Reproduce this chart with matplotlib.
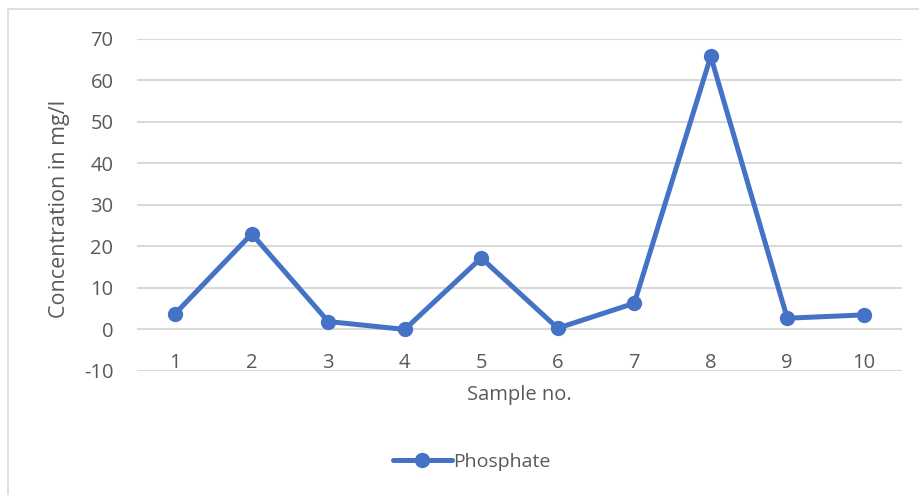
import matplotlib.pyplot as plt
from matplotlib.patches import Rectangle

samples = [1, 2, 3, 4, 5, 6, 7, 8, 9, 10]
phosphate = [3.8, 23.0, 1.9, 0.0, 17.2, 0.3, 6.3, 65.7, 2.7, 3.5]
yticks = [-10, 0, 10, 20, 30, 40, 50, 60, 70]

text_col = "#595959"
line_col = "#4472C4"
grid_col = "#D9D9D9"
plt.rcParams["font.family"] = ["Open Sans", "DejaVu Sans"]
plt.rcParams["axes.unicode_minus"] = False

fig = plt.figure(figsize=(9.2, 4.95), dpi=100)
# chart frame, cut off at right and bottom like the screenshot
fig.patches.append(Rectangle((8 / 920, -0.1), 1.2, 1.1 - 9 / 495,
                             transform=fig.transFigure, fill=False,
                             edgecolor=grid_col, linewidth=1.2))

ax = fig.add_axes([137 / 920, 1 - 371 / 495, (902 - 137) / 920, (371 - 38.5) / 495])
ax.plot(samples, phosphate, color=line_col, linewidth=3.6, marker="o",
        markersize=10, label="Phosphate", solid_capstyle="round", zorder=3)

ax.set_xlim(0.5, 10.5)
ax.set_ylim(-10, 70)
ax.set_yticks(yticks)
ax.set_xticks(samples)
ax.grid(axis="y", color=grid_col, linewidth=1.5)
ax.set_axisbelow(True)
for s in ax.spines.values():
    s.set_visible(False)

ax.tick_params(axis="y", length=0, pad=17, labelsize=14.5, labelcolor=text_col)
ax.tick_params(axis="x", length=0, pad=-13, labelsize=14.5, labelcolor=text_col)

ax.set_xlabel("Sample no.", fontsize=14.5, color=text_col, labelpad=9)
fig.text(60 / 920, 1 - 209 / 495, "Concentration in mg/l", rotation=90,
         ha="center", va="center", fontsize=15.5, color=text_col)

fig.legend(loc="center", bbox_to_anchor=(472 / 920, 1 - 462 / 495), frameon=False,
           fontsize=14, labelcolor=text_col, handlelength=3, handletextpad=0.1)

fig.savefig("out.png", dpi=100)
